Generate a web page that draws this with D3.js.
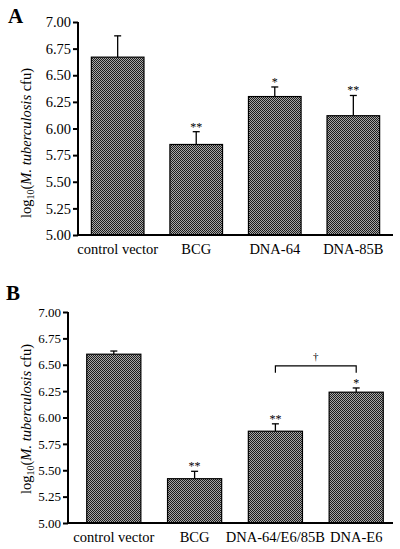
<!DOCTYPE html>
<html><head><meta charset="utf-8">
<script src="https://cdn.jsdelivr.net/npm/d3@7"></script>
<style>body{margin:0;background:#fff}svg{display:block}</style>
</head><body>
<svg id="c" width="400" height="549"></svg>
<script>
const categoriesA = ["control vector", "BCG", "DNA-64", "DNA-85B"];
const valuesA = [6.67, 5.85, 6.30, 6.12];
const errorsA = [6.87, 5.97, 6.39, 6.31];
const marksA = ["", "**", "*", "**"];

const categoriesB = ["control vector", "BCG", "DNA-64/E6/85B", "DNA-E6"];
const valuesB = [6.60, 5.42, 5.87, 6.24];
const errorsB = [6.63, 5.49, 5.94, 6.28];
const marksB = ["", "**", "**", "*"];
const bracketB = {from: "DNA-64/E6/85B", to: "DNA-E6", y: 6.49, label: "†"};

const yTicks = [5.00, 5.25, 5.50, 5.75, 6.00, 6.25, 6.50, 6.75, 7.00];

const svg = d3.select("#c");
const defs = svg.append("defs");
const pat = defs.append("pattern").attr("id","chk").attr("width",2).attr("height",2)
  .attr("patternUnits","userSpaceOnUse");
pat.append("rect").attr("width",2).attr("height",2).attr("fill","#a8a8a8");
pat.append("rect").attr("width",1).attr("height",1).attr("fill","#1c1c1c");
pat.append("rect").attr("x",1).attr("y",1).attr("width",1).attr("height",1).attr("fill","#1c1c1c");

const font = "Liberation Serif, Times New Roman, serif";

function panel(o) {
  const g = svg.append("g");
  const y = d3.scaleLinear().domain([5, 7]).range([o.y0, o.y1]);
  const x = d3.scaleBand().domain(o.cats).range([o.xb0, o.xb1]).paddingInner(0.33).paddingOuter(0.17);

  g.append("text").attr("x", o.lx).attr("y", o.ly).attr("font-family", font)
    .attr("font-weight","bold").attr("font-size", 21).text(o.letter);

  g.selectAll("rect.bar").data(o.vals).join("rect").attr("class","bar")
    .attr("x",(d,i)=>x(o.cats[i])).attr("width",x.bandwidth())
    .attr("y",d=>y(d)).attr("height",d=>y(5)-y(d))
    .attr("fill","url(#chk)").attr("stroke","#000").attr("stroke-width",1.2);

  o.errs.forEach((e,i)=>{
    const cx = x(o.cats[i]) + x.bandwidth()/2;
    g.append("line").attr("x1",cx).attr("x2",cx).attr("y1",y(o.vals[i])).attr("y2",y(e))
      .attr("stroke","#000").attr("stroke-width",1.3);
    g.append("line").attr("x1",cx-3.5).attr("x2",cx+3.5).attr("y1",y(e)).attr("y2",y(e))
      .attr("stroke","#000").attr("stroke-width",1.3);
    if (o.marks[i]) {
      g.append("text").attr("x",cx).attr("y",y(e)-1).attr("text-anchor","middle")
        .attr("font-family",font).attr("font-size",12).attr("fill","#000").text(o.marks[i]);
    }
  });

  if (o.bracket) {
    const b = o.bracket;
    const xa = x(b.from)+x.bandwidth()/2, xb = x(b.to)+x.bandwidth()/2, yb = y(b.y);
    g.append("path").attr("d",`M${xa},${yb+7}V${yb}H${xb}V${yb+7}`)
      .attr("fill","none").attr("stroke","#000").attr("stroke-width",1.2);
    g.append("text").attr("x",(xa+xb)/2).attr("y",yb-6).attr("text-anchor","middle")
      .attr("font-family",font).attr("font-size",11).attr("fill","#000").text(b.label);
  }

  const ya = g.append("g").attr("transform",`translate(${o.ax},0)`)
    .call(d3.axisLeft(y).tickValues(yTicks).tickFormat(d3.format(".2f")).tickSize(5).tickPadding(2));
  ya.select(".domain").attr("stroke-width",2).attr("d",`M0,${o.y0}V${o.y1}`);
  ya.selectAll(".tick line").attr("stroke-width",2);
  ya.selectAll(".tick text").attr("font-family",font).attr("font-size",o.tickFs).attr("fill","#000");

  const xa = g.append("g").attr("transform",`translate(0,${o.y0})`)
    .call(d3.axisBottom(x).tickSize(0).tickPadding(9));
  xa.select(".domain").attr("stroke-width",2).attr("d",`M${o.ax-1},0H${o.axEnd}`);
  xa.selectAll(".tick text").attr("font-family",font).attr("font-size",14.5).attr("fill","#000");

  const t = g.append("text").attr("transform",`translate(${o.ylx},${o.yly}) rotate(-90)`)
    .attr("text-anchor","middle").attr("font-family",font).attr("font-size",14.5).attr("fill","#000");
  t.append("tspan").text("log");
  t.append("tspan").attr("font-size",10).attr("dy",3).text("10");
  t.append("tspan").attr("dy",-3).text("(");
  t.append("tspan").attr("font-style","italic").text("M. tuberculosis");
  t.append("tspan").text(" cfu)");
}

panel({letter:"A", lx:8, ly:23, cats:categoriesA, vals:valuesA, errs:errorsA, marks:marksA,
  y0:235, y1:22, ax:78, axEnd:393, xb0:78, xb1:393, ylx:31, yly:143, tickFs:14.5});
panel({letter:"B", lx:6, ly:300, cats:categoriesB, vals:valuesB, errs:errorsB, marks:marksB,
  bracket:bracketB, y0:523, y1:312, ax:68, axEnd:393, xb0:73, xb1:397, ylx:31, yly:419, tickFs:13});
</script>
</body></html>
